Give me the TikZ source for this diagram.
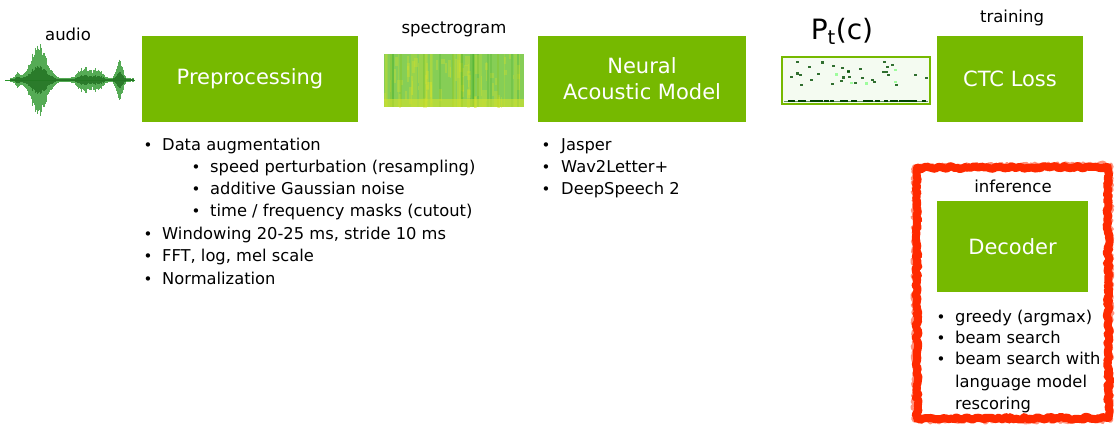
\documentclass[tikz,border=0pt]{standalone}
\usepackage{fontspec}
\setmainfont{DejaVu Sans}
\usetikzlibrary{decorations.pathmorphing}
\definecolor{nvgreen}{HTML}{76B900}
\definecolor{redline}{HTML}{FF2A00}
\definecolor{specg}{HTML}{86CE56}
\definecolor{specy}{HTML}{D2E22E}
\definecolor{ptbg}{HTML}{F4FBF1}
\definecolor{wave}{HTML}{2A962A}
\begin{document}
\begin{tikzpicture}[x=1pt,y=-1pt,
  gbox/.style={fill=nvgreen,draw=none,text=white,font=\fontsize{21}{26}\selectfont,align=center},
  lbl/.style={font=\fontsize{16.5}{18}\selectfont,text=black},
  blt/.style={font=\fontsize{16.3}{22}\selectfont,anchor=base west,inner sep=0pt,text=black},
  dot/.style={font=\fontsize{15}{22}\selectfont,anchor=base,inner sep=0pt}
]
\useasboundingbox (0,0) rectangle (1115,426);
% audio
\node[lbl] (audiolbl) at (68,34) {audio};
\draw[wave,line width=0.6pt] (5,80) -- (135,80);
\pgfmathsetseed{7}
\foreach \i in {10,11,...,133}{
  \pgfmathsetmacro{\env}{2+5*exp(-((\i-17)/3)^2)+35*exp(-((\i-38)/11)^2)+12*exp(-((\i-84)/8)^2)+10*exp(-((\i-98)/6)^2)+23*exp(-((\i-119)/4)^2)}
  \pgfmathsetmacro{\a}{\env*(0.7+0.3*rnd)}
  \draw[wave,opacity=0.8,line width=1pt] (\i,80-\a) -- (\i,80+\a);
  \pgfmathsetmacro{\b}{\a*0.4}
  \draw[wave!75!black,opacity=0.8,line width=1pt] (\i,80-\b) -- (\i,80+\b);
}
% preprocessing
\node[gbox,minimum width=216pt,minimum height=86pt] (pre) at (250,79) {Preprocessing};
% spectrogram
\node[lbl] (speclbl) at (454,29) {spectrogram};
\node[fill=specg,minimum width=140pt,minimum height=53pt,inner sep=0pt] (spec) at (454,80.5) {};
\begin{scope}
\clip (spec.south west) rectangle (spec.north east);
\pgfmathsetseed{11}
\foreach \i in {0,...,70}{
  \pgfmathsetmacro{\xx}{384+137*rnd}
  \pgfmathsetmacro{\yy}{54+45*rnd}
  \pgfmathsetmacro{\ww}{1+3*rnd}
  \pgfmathsetmacro{\hh}{4+20*rnd}
  \fill[specy,opacity=0.35] (\xx,\yy) rectangle (\xx+\ww,\yy+\hh);
}
\foreach \i in {0,...,25}{
  \pgfmathsetmacro{\xx}{384+136*rnd}
  \pgfmathsetmacro{\ww}{1+3*rnd}
  \fill[specy,opacity=0.25] (\xx,54) rectangle (\xx+\ww,107);
}
\foreach \i in {0,...,18}{
  \pgfmathsetmacro{\xx}{384+136*rnd}
  \fill[green!55!black,opacity=0.12] (\xx,54) rectangle (\xx+2,107);
}
\fill[specy,opacity=0.6] (384,99) rectangle (524,107);
\end{scope}
% neural
\node[gbox,minimum width=208pt,minimum height=86pt] (nam) at (642,79) {Neural\\[0pt]Acoustic Model};
% Pt(c)
\node[font=\fontsize{28}{30}\selectfont] (ptlbl) at (842,31) {P$_{\mathrm{t}}$(c)};
\node[fill=ptbg,draw=nvgreen,line width=1.2pt,minimum width=148pt,minimum height=47pt,inner sep=0pt] (pt) at (856,80.5) {};
\pgfmathsetseed{5}
\foreach \i in {0,...,30}{
  \pgfmathsetmacro{\xx}{788+138*rnd}
  \pgfmathsetmacro{\yy}{60+24*rnd}
  \fill[green!30!black,opacity=0.8] (\xx,\yy) rectangle (\xx+3,\yy+2.2);
}
\foreach \i in {0,...,4}{
  \pgfmathsetmacro{\xx}{788+138*rnd}
  \pgfmathsetmacro{\yy}{60+24*rnd}
  \fill[green!60,opacity=0.6] (\xx,\yy) rectangle (\xx+3,\yy+2.2);
}
\foreach \i in {0,...,40}{
  \pgfmathsetmacro{\xx}{786+138*rnd}
  \fill[green!25!black] (\xx,100) rectangle (\xx+4,101.8);
}
\draw[green!30!black,line width=0.6pt,opacity=0.6] (784,101) -- (928,101);
% CTC
\node[lbl] (trainlbl) at (1012,18) {training};
\node[gbox,minimum width=146pt,minimum height=86pt] (ctc) at (1010,79) {CTC Loss};
% red box
\draw[redline,line width=8pt,line join=round,decorate,decoration={random steps,segment length=2.5pt,amplitude=1.5pt}]
  (917,168) -- (1108,167) -- (1108.5,418) -- (917,419) -- cycle;
\draw[redline,opacity=0.5,line width=3pt,line join=round,decorate,decoration={random steps,segment length=2pt,amplitude=2pt}]
  (914,166) -- (1111,164) -- (1111,421) -- (914,421) -- cycle;
\node[lbl] (inflbl) at (1013,186) {inference};
\node[gbox,minimum width=151pt,minimum height=91pt] (dec) at (1012.5,246.5) {Decoder};
% bullets preprocessing
\foreach \y/\t in {150/Data augmentation,239/{Windowing 20-25 ms, stride 10 ms},261/{FFT, log, mel scale},284/Normalization}{
  \node[dot] at (148,\y) {\textbullet};
  \node[blt] at (162,\y) {\t};
}
\foreach \y/\t in {172/speed perturbation (resampling),194/additive Gaussian noise,216/{time / frequency masks (cutout)}}{
  \node[dot] at (196,\y) {\textbullet};
  \node[blt] at (210,\y) {\t};
}
% bullets neural
\foreach \y/\t in {150/Jasper,172/Wav2Letter+,194/DeepSpeech 2}{
  \node[dot] at (546,\y) {\textbullet};
  \node[blt] at (561,\y) {\t};
}
% bullets decoder
\foreach \y/\t in {322/greedy (argmax),343/beam search,364/beam search with}{
  \node[dot] at (941,\y) {\textbullet};
  \node[blt] at (955,\y) {\t};
}
\node[blt] at (955,387) {language model};
\node[blt] at (955,409) {rescoring};
\end{tikzpicture}
\end{document}
